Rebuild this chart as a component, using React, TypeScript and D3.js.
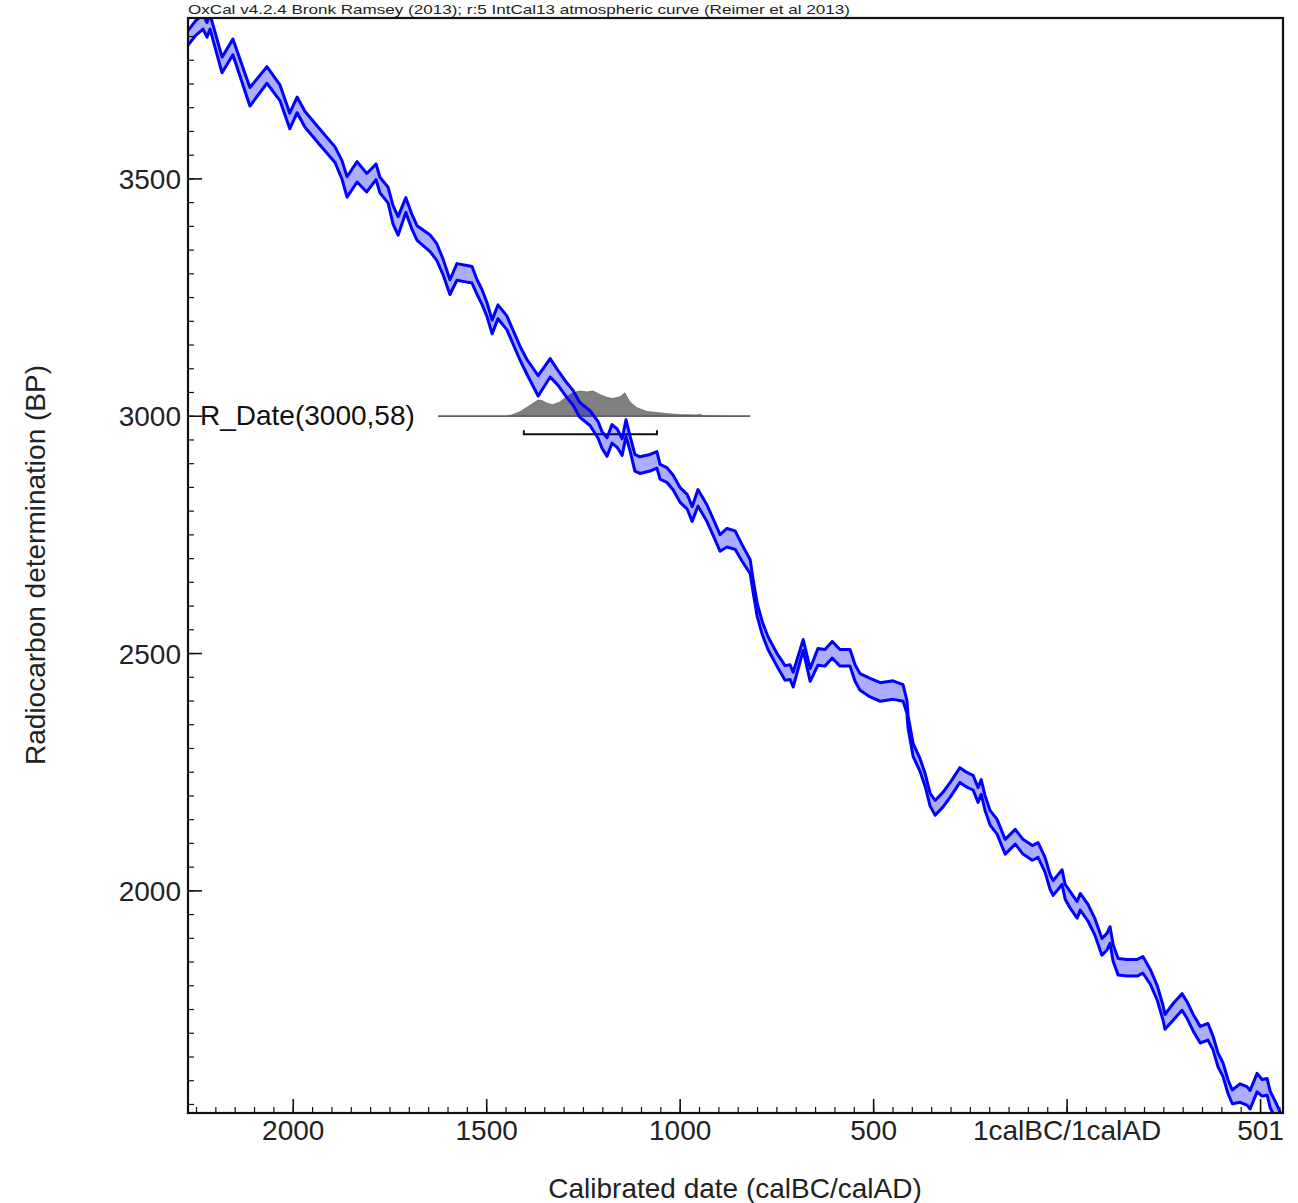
import React from "react";
import * as d3 from "d3";

// Calibration curve (IntCal13), calendar year (negative = BC), radiocarbon BP mean and 1-sigma
const calYear = [-2290,-2272,-2252,-2233,-2223,-2215,-2184,-2156,-2112,-2068,-2034,-2009,-1990,-1970,-1931,-1892,-1874,-1861,-1835,-1810,-1786,-1776,-1755,-1742,-1729,-1709,-1693,-1680,-1647,-1629,-1613,-1595,-1577,-1551,-1538,-1525,-1512,-1499,-1486,-1471,-1448,-1432,-1414,-1396,-1367,-1336,-1316,-1293,-1277,-1259,-1233,-1212,-1202,-1189,-1176,-1163,-1150,-1140,-1130,-1117,-1104,-1078,-1060,-1052,-1034,-1018,-1000,-982,-969,-954,-931,-915,-897,-879,-858,-840,-819,-812,-801,-788,-773,-750,-729,-716,-708,-682,-664,-644,-626,-607,-587,-561,-548,-535,-509,-483,-450,-424,-414,-411,-398,-380,-367,-354,-341,-321,-302,-277,-259,-243,-230,-222,-212,-199,-181,-160,-134,-114,-90,-75,-57,-44,-36,-13,-5,8,26,34,54,72,90,103,111,119,132,155,181,196,215,233,248,253,274,297,310,326,344,364,377,390,403,416,427,447,465,473,491,504,517,525,538,556,570];
const bpMid = [3790,3797,3818,3831,3814,3831,3740,3778,3673,3719,3681,3622,3656,3626,3588,3551,3519,3483,3515,3492,3515,3487,3466,3424,3401,3445,3409,3386,3365,3346,3315,3272,3304,3300,3298,3272,3251,3224,3188,3220,3197,3167,3133,3104,3064,3102,3081,3055,3039,3013,2996,2971,2950,2935,2963,2954,2935,2975,2944,2902,2897,2902,2908,2883,2876,2860,2834,2820,2794,2828,2796,2767,2733,2744,2739,2712,2683,2645,2592,2554,2522,2487,2459,2461,2445,2518,2455,2493,2491,2508,2491,2491,2459,2440,2428,2419,2423,2417,2388,2356,2297,2265,2234,2192,2175,2192,2213,2244,2234,2228,2202,2219,2185,2154,2135,2093,2114,2093,2080,2086,2055,2019,2006,2029,1998,1981,1960,1977,1954,1924,1882,1893,1907,1869,1840,1838,1838,1844,1819,1785,1743,1724,1745,1766,1749,1722,1697,1703,1680,1644,1623,1587,1566,1574,1568,1560,1596,1585,1587,1560,1539,1507,1480];
const bpErr = [14,14,14,14,14,14,15,15,18,16,15,15,15,15,15,15,18,20,20,18,15,15,15,18,18,14,14,14,16,16,15,14,16,16,16,14,14,13,13,13,13,13,13,14,20,18,14,14,14,14,14,16,16,18,18,18,16,16,14,16,16,16,16,14,14,14,14,14,14,16,16,16,16,18,18,16,13,12,12,12,12,12,14,14,14,10,12,16,16,16,16,16,16,16,18,18,18,16,12,12,12,12,12,12,14,14,14,14,14,14,14,14,14,14,14,14,14,14,14,14,14,14,14,14,14,16,16,16,16,16,16,16,16,16,16,16,16,16,14,14,14,14,16,16,16,16,16,16,13,13,13,13,13,18,18,18,18,16,16,16,16,16,16];

// R_Date(3000,58) calibrated probability distribution
const distYear = [-1626,-1453,-1435,-1414,-1388,-1367,-1357,-1344,-1329,-1311,-1293,-1277,-1259,-1241,-1225,-1207,-1189,-1174,-1155,-1143,-1130,-1112,-1086,-1060,-1034,-1000,-956,-949,-941,-897,-819];
const distProb = [0,0,0.05,0.17,0.42,0.62,0.6,0.5,0.44,0.55,0.75,0.9,0.97,0.93,0.97,0.83,0.72,0.68,0.75,0.9,0.55,0.33,0.18,0.14,0.1,0.06,0.05,0.08,0.02,0.01,0];
const rangeYears = [-1404, -1060];
const rDateLabel = "R_Date(3000,58)";
const rDateBP = 3000;

const xTickValues = [-2000, -1500, -1000, -500, 0, 500];
const xTickLabels = ["2000", "1500", "1000", "500", "1calBC/1calAD", "501"];
const yTickValues = [2000, 2500, 3000, 3500];
const yTickLabels = ["2000", "2500", "3000", "3500"];

const titleText = "OxCal v4.2.4 Bronk Ramsey (2013); r:5 IntCal13 atmospheric curve (Reimer et al 2013)";
const xTitle = "Calibrated date (calBC/calAD)";
const yTitle = "Radiocarbon determination (BP)";

const W = 1298, H = 1203;
const L = 188, R = 1283, T = 18, B = 1113;
const FONT = "'Liberation Sans', Arial, sans-serif";

export default function App() {
  const x = d3.scaleLinear().domain([-2272, 558]).range([L, R]);
  const y = d3.scaleLinear().domain([1532, 3839]).range([B, T]);

  const pts = calYear.map((t, i) => ({ t, m: bpMid[i], e: (bpErr[i] ?? 15) + 1.5 }));
  const area = d3.area<any>().x((d) => x(d.t)).y0((d) => y(d.m - d.e)).y1((d) => y(d.m + d.e));
  const upper = d3.line<any>().x((d) => x(d.t)).y((d) => y(d.m + d.e));
  const lower = d3.line<any>().x((d) => x(d.t)).y((d) => y(d.m - d.e));

  const base = y(rDateBP);
  const dist = distYear.map((t, i) => ({ t, p: distProb[i] }));
  const distArea = d3.area<any>().x((d) => x(d.t)).y0(base).y1((d) => base - d.p * 26);

  const xMinor = d3.range(-2250, 560, 50);
  const yMinor = d3.range(1550, 3839, 50);

  const bracketY = base + 18;

  return (
    <svg width={W} height={H} style={{ position: "absolute", left: 0, top: 0, background: "#fff" }} fontFamily={FONT}>
      <defs>
        <clipPath id="plotclip">
          <rect x={L} y={T} width={R - L} height={B - T} />
        </clipPath>
      </defs>
      <rect x={0} y={0} width={W} height={H} fill="#fff" />
      <text x={L} y={14} fontSize={13} fill="#222" textLength={662} lengthAdjust="spacingAndGlyphs">{titleText}</text>

      {/* distribution */}
      <path d={distArea(dist) || ""} fill="#808080" stroke="#666" strokeWidth={0.8} />
      <line x1={x(distYear[0])} x2={x(distYear[distYear.length - 1])} y1={base} y2={base} stroke="#555" strokeWidth={1.2} />
      <path
        d={`M${x(rangeYears[0])},${bracketY - 4}V${bracketY}H${x(rangeYears[1])}V${bracketY - 4}`}
        fill="none" stroke="#111" strokeWidth={2}
      />
      <text x={200} y={base + 9} fontSize={28} fill="#111">{rDateLabel}</text>

      {/* calibration curve */}
      <g clipPath="url(#plotclip)">
        <path d={area(pts) || ""} fill="rgba(0,0,255,0.32)" stroke="none" />
        <path d={upper(pts) || ""} fill="none" stroke="#0000ff" strokeWidth={3} strokeLinejoin="round" />
        <path d={lower(pts) || ""} fill="none" stroke="#0000ff" strokeWidth={3} strokeLinejoin="round" />
      </g>

      {/* frame */}
      <rect x={L} y={T} width={R - L} height={B - T} fill="none" stroke="#111" strokeWidth={2.2} />

      {/* x ticks */}
      {xMinor.map((v) => (
        <line key={"xm" + v} x1={x(v)} x2={x(v)} y1={B} y2={B - 6} stroke="#111" strokeWidth={1.2} />
      ))}
      {xTickValues.map((v, i) => (
        <g key={"xt" + v}>
          <line x1={x(v)} x2={x(v)} y1={B} y2={B - 14} stroke="#111" strokeWidth={1.6} />
          <text x={x(v)} y={1140} fontSize={28} textAnchor="middle" fill="#222">{xTickLabels[i]}</text>
        </g>
      ))}

      {/* y ticks */}
      {yMinor.map((v) => (
        <line key={"ym" + v} x1={L} x2={L + 6} y1={y(v)} y2={y(v)} stroke="#111" strokeWidth={1.2} />
      ))}
      {yTickValues.map((v, i) => (
        <g key={"yt" + v}>
          <line x1={L} x2={L + 14} y1={y(v)} y2={y(v)} stroke="#111" strokeWidth={1.6} />
          <text x={181} y={y(v) + 10} fontSize={28} textAnchor="end" fill="#222">{yTickLabels[i]}</text>
        </g>
      ))}

      <text x={735} y={1198} fontSize={28} textAnchor="middle" fill="#222">{xTitle}</text>
      <text transform="translate(45,565) rotate(-90)" fontSize={28} textAnchor="middle" fill="#222">{yTitle}</text>
    </svg>
  );
}
